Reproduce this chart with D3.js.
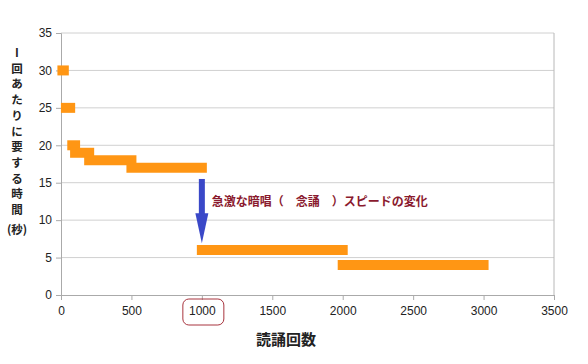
<!DOCTYPE html>
<html>
<head>
<meta charset="utf-8">
<script src="https://cdn.jsdelivr.net/npm/d3@7"></script>
<style>
  body { margin: 0; background: #fff; }
  svg { font-family: "Liberation Sans", Arial, sans-serif; }
  .jp { font-family: "Noto Sans CJK JP", sans-serif; }
</style>
</head>
<body>
<svg id="chart" width="588" height="364"></svg>
<script>
// reading steps: [start count, end count, seconds per reading]
var stepStart = [10, 35, 80, 100, 200, 500, 1000, 2000];
var stepEnd   = [20, 65, 100, 200, 500, 1000, 2000, 3000];
var stepTime  = [30, 25, 20, 19, 18, 17, 6, 4];
var xTicks = [0, 500, 1000, 1500, 2000, 2500, 3000, 3500];
var yTicks = [0, 5, 10, 15, 20, 25, 30, 35];
var yTitleChars = ["I", "回", "あ", "た", "り", "に", "要", "す", "る", "時", "間", "(秒)"];
var xTitle = "読誦回数";
var noteText = "急激な暗唱（　念誦　）スピードの変化";
var arrowFrom = [1000, 15.5], arrowTo = [1000, 6.9];

var margin = {left: 61, top: 33, right: 34, bottom: 69};
var width = 588 - margin.left - margin.right;
var height = 364 - margin.top - margin.bottom;

var svg = d3.select("#chart");
var g = svg.append("g").attr("transform", "translate(" + margin.left + "," + margin.top + ")");

var xScale = d3.scaleLinear().domain([0, 3500]).range([0, width]);
var yScale = d3.scaleLinear().domain([0, 35]).range([height, 0]);

// horizontal grid
g.selectAll("line.grid")
    .data(yTicks.filter(function (d) { return d > 0; }))
    .enter()
    .append("line")
    .attr("class", "grid")
    .attr("x1", 0).attr("x2", width)
    .attr("y1", function (d) { return yScale(d); })
    .attr("y2", function (d) { return yScale(d); })
    .attr("stroke", "#d0d0d0");

// right border
g.append("line")
    .attr("x1", width).attr("x2", width)
    .attr("y1", 0).attr("y2", height)
    .attr("stroke", "#b8b8b8");

// axes
var yAxis = g.append("g")
    .call(d3.axisLeft(yScale).tickValues(yTicks).tickFormat(d3.format("d")).tickSize(5).tickPadding(4));
var xAxis = g.append("g")
    .attr("transform", "translate(0," + height + ")")
    .call(d3.axisBottom(xScale).tickValues(xTicks).tickFormat(d3.format("d")).tickSize(5).tickPadding(6));
[xAxis, yAxis].forEach(function (a) {
    a.select(".domain").attr("stroke", "#aaa");
    a.selectAll(".tick line").attr("stroke", "#aaa");
    a.selectAll(".tick text").attr("fill", "#222").style("font-size", "12px")
        .style("font-family", "'Liberation Sans', Arial, sans-serif");
});

// steps drawn as thick orange lines
g.selectAll("line.step")
    .data(stepTime)
    .enter()
    .append("line")
    .attr("class", "step")
    .attr("x1", function (d, i) { return xScale(stepStart[i]); })
    .attr("x2", function (d, i) { return xScale(stepEnd[i]); })
    .attr("y1", function (d) { return yScale(d); })
    .attr("y2", function (d) { return yScale(d); })
    .attr("stroke", "#ff9614")
    .attr("stroke-width", 10)
    .attr("stroke-linecap", "square");

// blue arrow
var ax = xScale(arrowFrom[0]);
var ay0 = yScale(arrowFrom[1]), ay1 = yScale(arrowTo[1]);
g.append("rect")
    .attr("x", ax - 3).attr("y", ay0)
    .attr("width", 6).attr("height", (ay1 - ay0) - 28)
    .attr("fill", "#3a48c8");
g.append("path")
    .attr("d", "M" + (ax - 6.5) + "," + (ay1 - 30) + "L" + (ax + 6.5) + "," + (ay1 - 30) +
        "L" + ax + "," + ay1 + "Z")
    .attr("fill", "#3a48c8");

// annotation
g.append("text")
    .attr("class", "jp")
    .attr("x", xScale(1070)).attr("y", yScale(12.4))
    .attr("dy", "0.35em")
    .attr("fill", "#8a1a2e")
    .style("font-size", "12px")
    .style("font-weight", "bold")
    .text(noteText);

// red rounded box around the 1000 label
g.append("rect")
    .attr("x", xScale(1000) - 19).attr("y", height + 4)
    .attr("width", 41).attr("height", 26)
    .attr("rx", 6)
    .attr("fill", "none")
    .attr("stroke", "#a8343e")
    .attr("stroke-width", 1);

// axis titles
svg.append("text")
    .attr("class", "jp")
    .attr("x", 286).attr("y", 340)
    .attr("text-anchor", "middle")
    .attr("dy", "0.35em")
    .attr("fill", "#222")
    .style("font-size", "15px")
    .style("font-weight", "bold")
    .text(xTitle);

svg.selectAll("text.ytitle")
    .data(yTitleChars)
    .enter()
    .append("text")
    .attr("class", "ytitle jp")
    .attr("x", 17)
    .attr("y", function (d, i) { return 53 + i * 15.7 + (i === 11 ? 4 : 0); })
    .attr("text-anchor", "middle")
    .attr("dy", "0.35em")
    .attr("fill", "#222")
    .style("font-size", "11.5px")
    .style("font-weight", "bold")
    .text(function (d) { return d; });
</script>
</body>
</html>
